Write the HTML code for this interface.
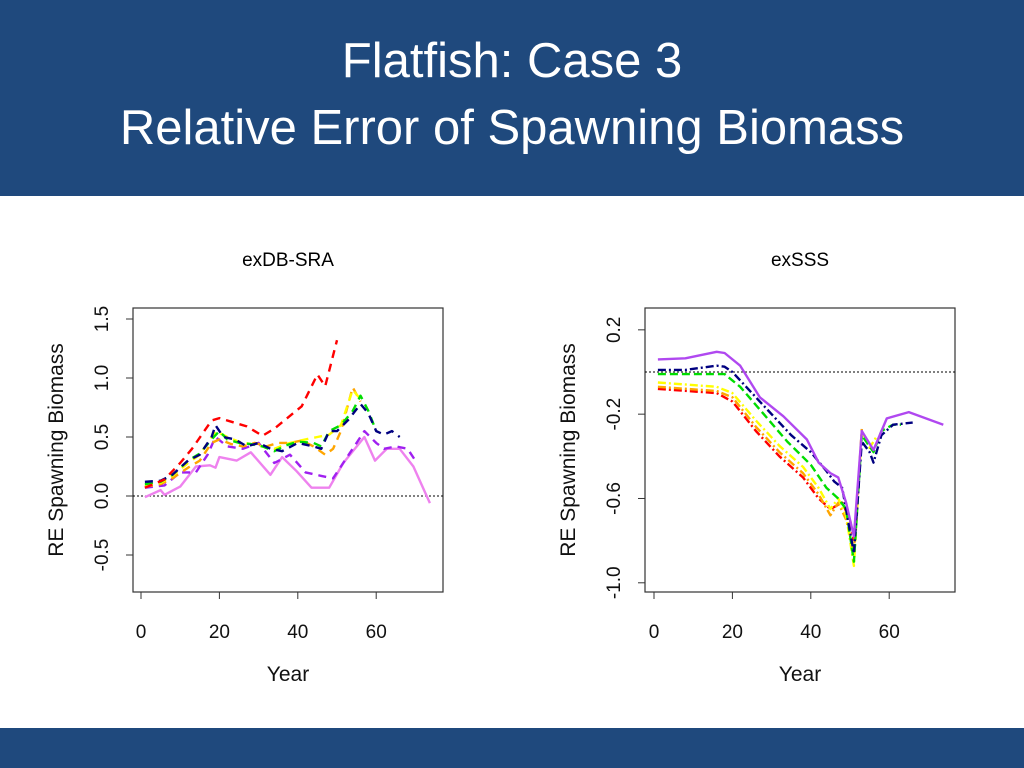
<!DOCTYPE html>
<html><head><meta charset="utf-8"><style>
body{margin:0;width:1024px;height:768px;background:#fff;overflow:hidden;font-family:"Liberation Sans",sans-serif}
#hdr{position:absolute;left:0;top:0;width:1024px;height:196px;background:#1F497D;color:#fff;text-align:center;font-size:49px;line-height:67px;padding-top:28px;box-sizing:border-box}
#ftr{position:absolute;left:0;top:728px;width:1024px;height:40px;background:#1F497D}
svg{position:absolute;left:0;top:0}
</style></head><body>
<div id="hdr">Flatfish: Case 3<br>Relative Error of Spawning Biomass</div>
<div id="ftr"></div>
<svg id="s" width="1024" height="768"></svg>
<script>
// Left chart (exDB-SRA) data
const L_red_x=[1,6,10,13,18,20,23,27,31,34,41,45,47,50];
const L_red_y=[0.07,0.14,0.28,0.40,0.64,0.66,0.63,0.59,0.51,0.57,0.76,1.03,0.93,1.32];
const L_navy_x=[1,5,8,12,15,18,19,21,24,27,30,33,36,40,44,46,48,50,53,56,58,60,62,64,66];
const L_navy_y=[0.12,0.13,0.18,0.30,0.35,0.50,0.60,0.50,0.48,0.42,0.45,0.40,0.38,0.45,0.42,0.40,0.55,0.55,0.65,0.78,0.70,0.55,0.52,0.55,0.50];
const L_green_x=[1,5,8,12,15,18,20,22,25,28,31,34,37,40,44,46,48,51,54,56,58,60];
const L_green_y=[0.10,0.12,0.18,0.30,0.36,0.48,0.55,0.48,0.45,0.44,0.42,0.38,0.43,0.46,0.45,0.42,0.55,0.60,0.72,0.85,0.72,0.55];
const L_yellow_x=[1,5,8,12,15,18,19,22,25,28,31,34,38,42,45,48,51,54,56];
const L_yellow_y=[0.09,0.11,0.17,0.28,0.35,0.50,0.55,0.50,0.46,0.44,0.42,0.40,0.45,0.48,0.50,0.52,0.60,0.90,0.82];
const L_orange_x=[1,5,8,12,15,18,20,23,26,29,32,35,38,41,44,47,49,51,54,56];
const L_orange_y=[0.08,0.10,0.15,0.24,0.30,0.45,0.48,0.44,0.42,0.45,0.42,0.45,0.45,0.47,0.42,0.35,0.40,0.55,0.92,0.80];
const L_purple_x=[1,6,10,14,17,19,22,26,30,34,38,42,46,49,52,55,57,60,62,65,68,70];
const L_purple_y=[0.07,0.09,0.20,0.20,0.35,0.50,0.42,0.40,0.45,0.28,0.35,0.20,0.17,0.15,0.30,0.45,0.55,0.45,0.40,0.42,0.40,0.30];
const L_pink_x=[1,5,6,10,14,17.6,19,20,24.4,28,33,36,39.7,43.5,48,51.6,57,59.7,62.7,66,69.5,73.7];
const L_pink_y=[-0.01,0.05,0.01,0.08,0.25,0.26,0.24,0.33,0.30,0.37,0.18,0.33,0.21,0.07,0.07,0.28,0.50,0.30,0.40,0.40,0.25,-0.06];
const L_yticks=[-0.5,0,0.5,1,1.5];
const L_ylabels=["-0.5","0.0","0.5","1.0","1.5"];
// Right chart (exSSS) data
const R_purple_x=[1,8,12,16,18,22,27,33,39,42,45,47,49,51,53,56,59.4,65,73.8];
const R_purple_y=[0.06,0.065,0.08,0.096,0.09,0.03,-0.12,-0.21,-0.32,-0.43,-0.48,-0.50,-0.62,-0.78,-0.28,-0.37,-0.22,-0.19,-0.25];
const R_navy_x=[1,8,12,16,18,20,25,30,35,40,44,46,48,51,53,55,56,58,61,66];
const R_navy_y=[0.01,0.01,0.02,0.03,0.025,0.0,-0.10,-0.20,-0.30,-0.38,-0.47,-0.52,-0.55,-0.86,-0.33,-0.38,-0.43,-0.30,-0.25,-0.24];
const R_green_x=[1,18,22,28,34,40,44,47,49,51,53,56,58,61,63];
const R_green_y=[-0.01,-0.01,-0.07,-0.20,-0.33,-0.44,-0.55,-0.60,-0.65,-0.90,-0.30,-0.38,-0.28,-0.25,-0.25];
const R_yellow_x=[1,16,20,26,32,38,42,45,47,49,51,53,55,57];
const R_yellow_y=[-0.05,-0.07,-0.10,-0.23,-0.35,-0.45,-0.55,-0.65,-0.60,-0.68,-0.92,-0.28,-0.36,-0.30];
const R_orange_x=[1,16,20,26,32,38,42,45,47,49,51,53];
const R_orange_y=[-0.07,-0.09,-0.12,-0.26,-0.38,-0.48,-0.58,-0.68,-0.62,-0.70,-0.85,-0.27];
const R_red_x=[1,16,20,26,32,38,42,45,48,50,51];
const R_red_y=[-0.08,-0.10,-0.14,-0.28,-0.40,-0.50,-0.60,-0.65,-0.62,-0.70,-0.80];
const R_yticks=[-1.0,-0.6,-0.2,0.2];
const R_ylabels=["-1.0","-0.6","-0.2","0.2"];
const xticks=[0,20,40,60];

const NS="http://www.w3.org/2000/svg";
const svg=document.getElementById('s');
function mk(tag,attrs,parent){const e=document.createElementNS(NS,tag);for(const k in attrs)e.setAttribute(k,attrs[k]);(parent||svg).appendChild(e);return e;}

function chart(cfg){
  const g=mk('g',{});
  
  
  const sx=v=>cfg.x0+v*cfg.xs, sy=v=>cfg.y0-v*cfg.ys;
  const b=mk('rect',{x:cfg.bx,y:308,width:310,height:284,fill:'none',stroke:'#333','stroke-width':1.2},g);
  
  
  const ref=mk('line',{x1:cfg.bx,x2:cfg.bx+310,y1:sy(0),y2:sy(0),stroke:'#000','stroke-dasharray':'2,2','stroke-width':1},g);
  
  
  xticks.forEach(t=>{
    mk('line',{x1:sx(t),x2:sx(t),y1:592,y2:599,stroke:'#333'},g);
    const tx=mk('text',{x:sx(t),y:638,'text-anchor':'middle','font-size':19,fill:'#111'},g);
    tx.textContent=t;
    
    
  });
  cfg.yt.forEach((t,i)=>{
    mk('line',{x1:cfg.bx,x2:cfg.bx-7,y1:sy(t),y2:sy(t),stroke:'#333'},g);
    const tx=mk('text',{x:0,y:0,'text-anchor':'middle','font-size':19,fill:'#111',transform:`translate(${cfg.bx-25},${sy(t)}) rotate(-90)`},g);
    tx.textContent=cfg.yl[i];
    
    
  });
  const t1=mk('text',{x:cfg.bx+155,y:266,'text-anchor':'middle','font-size':19,fill:'#000'},g);
  t1.textContent=cfg.title;
  
  
  const t2=mk('text',{x:cfg.bx+155,y:681,'text-anchor':'middle','font-size':21,fill:'#111'},g);
  t2.textContent='Year';
  
  
  const t3=mk('text',{x:0,y:0,'text-anchor':'middle','font-size':21,fill:'#111',transform:`translate(${cfg.bx-70},450) rotate(-90)`},g);
  t3.textContent='RE Spawning Biomass';
  
  
  cfg.series.forEach(s=>{
    const d=s.x.map((v,i)=>(i?'L':'M')+sx(v).toFixed(1)+','+sy(s.y[i]).toFixed(1)).join(' ');
    const p=mk('path',{d:d,fill:'none',stroke:s.c,'stroke-width':2.4,'stroke-dasharray':s.dash||'none','stroke-linejoin':'round'},g);
    
    
  });
}
chart({name:'exdb-sra-chart',title:'exDB-SRA',bx:133,x0:141,xs:3.92,y0:496,ys:118,yt:L_yticks,yl:L_ylabels,series:[
 {n:'series-pink',x:L_pink_x,y:L_pink_y,c:'#EE82EE'},
 {n:'series-purple',x:L_purple_x,y:L_purple_y,c:'#A020F0',dash:'8,6'},
 {n:'series-orange',x:L_orange_x,y:L_orange_y,c:'#FFA500',dash:'8,6'},
 {n:'series-yellow',x:L_yellow_x,y:L_yellow_y,c:'#FFFF00',dash:'8,6'},
 {n:'series-green',x:L_green_x,y:L_green_y,c:'#00DD00',dash:'8,6'},
 {n:'series-navy',x:L_navy_x,y:L_navy_y,c:'#000080',dash:'8,6'},
 {n:'series-red',x:L_red_x,y:L_red_y,c:'#FF0000',dash:'8,6'}]});
chart({name:'exsss-chart',title:'exSSS',bx:645,x0:654,xs:3.92,y0:372,ys:210.8,yt:R_yticks,yl:R_ylabels,series:[
 {n:'series-red',x:R_red_x,y:R_red_y,c:'#FF0000',dash:'8,3,2,3'},
 {n:'series-orange',x:R_orange_x,y:R_orange_y,c:'#FFA500',dash:'8,3,2,3'},
 {n:'series-yellow',x:R_yellow_x,y:R_yellow_y,c:'#FFFF00',dash:'8,3,2,3'},
 {n:'series-green',x:R_green_x,y:R_green_y,c:'#00DD00',dash:'8,4'},
 {n:'series-navy',x:R_navy_x,y:R_navy_y,c:'#000080',dash:'8,3,2,3'},
 {n:'series-purple',x:R_purple_x,y:R_purple_y,c:'#B048F0'}]});
</script>
</body></html>
